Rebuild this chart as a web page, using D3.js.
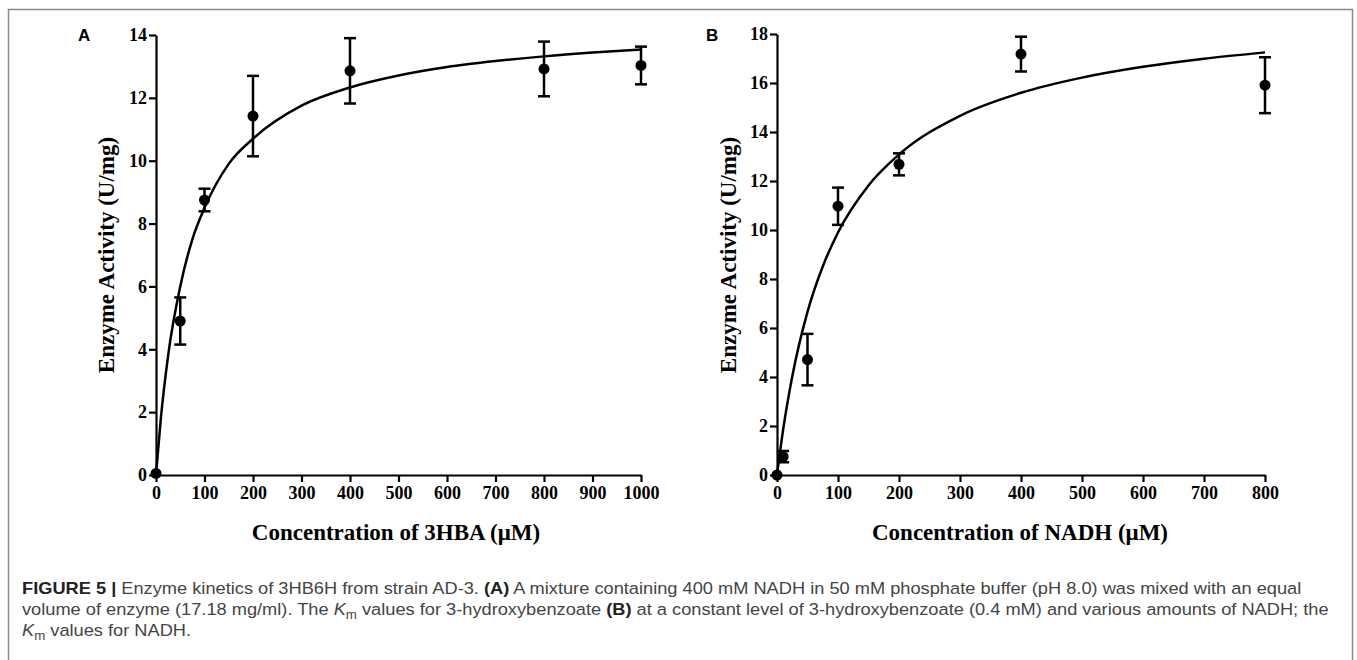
<!DOCTYPE html>
<html>
<head>
<meta charset="utf-8">
<script src="https://cdn.jsdelivr.net/npm/d3@7"></script>
<style>
  body { margin: 0; background: #fff; }
  svg { display: block; }
  .tick text { font-family: "Liberation Serif", "Times New Roman", serif; font-weight: bold; font-size: 18px; fill: #000; }
  .axis-title { font-family: "Liberation Serif", "Times New Roman", serif; font-weight: bold; font-size: 23px; fill: #000; }
  .panel-label { font-family: "Liberation Sans", Arial, sans-serif; font-weight: bold; font-size: 17px; fill: #000; }
  .caption { font-family: "Liberation Sans", Arial, sans-serif; font-size: 16.5px; fill: #444; }
</style>
</head>
<body>
<script>
// DATA ///////////////////////////////////////////////////////////
// panel A : 3HBA
var concA = [0, 50, 100, 200, 400, 800, 1000];
var actA  = [0.05, 4.9, 8.75, 11.42, 12.86, 12.92, 13.03];
var errA  = [0, 0.75, 0.36, 1.28, 1.04, 0.87, 0.6];
// fitted curve
var fitConcA = [0, 10, 25, 50, 75, 100, 150, 200, 300, 400, 500, 600, 700, 800, 900, 1000];
var fitActA  = [0, 1.8, 3.8, 6.0, 7.5, 8.5, 9.9, 10.7, 11.75, 12.33, 12.71, 12.98, 13.17, 13.32, 13.44, 13.54];

// panel B : NADH
var concB = [0, 10, 50, 100, 200, 400, 800];
var actB  = [0, 0.75, 4.71, 10.97, 12.68, 17.18, 15.91];
var errB  = [0, 0.23, 1.05, 0.76, 0.45, 0.71, 1.14];
var fitConcB = [0, 10, 25, 50, 75, 100, 150, 200, 300, 400, 500, 600, 700, 800];
var fitActB  = [0, 1.84, 4.02, 6.66, 8.51, 9.9, 11.82, 13.08, 14.66, 15.6, 16.22, 16.66, 16.99, 17.25];

var ticksXA = d3.range(0, 1001, 100);
var ticksYA = d3.range(0, 15, 2);
var ticksXB = d3.range(0, 801, 100);
var ticksYB = d3.range(0, 19, 2);

///////////////////////////////////////////////////////////////////
var width = 1357, height = 660;
var svg = d3.select("body").append("svg").attr("width", width).attr("height", height);

// frame
svg.append("path")
  .attr("d", "M8.5," + height + "V9.5H1352.5V" + height)
  .attr("fill", "none").attr("stroke", "#8a8a8a").attr("stroke-width", 1.5);

function drawPanel(opt){
  var x = d3.scaleLinear().domain(opt.xDomain).range(opt.xRange);
  var y = d3.scaleLinear().domain(opt.yDomain).range([475, opt.yTop]);
  var g = svg.append("g");

  var xAxis = g.append("g").attr("transform", "translate(0,475)")
    .call(d3.axisBottom(x).tickValues(opt.xTicks).tickFormat(d3.format("d"))
      .tickSize(7).tickSizeOuter(0).tickPadding(4));
  var yAxis = g.append("g").attr("transform", "translate(" + opt.xRange[0] + ",0)")
    .call(d3.axisLeft(y).tickValues(opt.yTicks).tickFormat(d3.format("d"))
      .tickSize(7).tickSizeOuter(0).tickPadding(2));
  [xAxis, yAxis].forEach(function(a){
    a.selectAll("path, line").attr("stroke", "#000").attr("stroke-width", 2.2);
  });

  // fit line
  g.append("path").datum(d3.zip(opt.fitX, opt.fitY))
    .attr("fill", "none").attr("stroke", "#000").attr("stroke-width", 2.5)
    .attr("d", d3.line().x(function(d){ return x(d[0]); }).y(function(d){ return y(d[1]); })
      .curve(d3.curveMonotoneX));

  var pts = d3.zip(opt.conc, opt.act, opt.err);
  var bars = g.append("g").attr("stroke", "#000").attr("stroke-width", 2.5);
  pts.filter(function(d){ return d[2] > 0; }).forEach(function(d){
    var cx = x(d[0]);
    bars.append("line").attr("x1", cx).attr("x2", cx).attr("y1", y(d[1] - d[2])).attr("y2", y(d[1] + d[2]));
    bars.append("line").attr("x1", cx - 6).attr("x2", cx + 6).attr("y1", y(d[1] + d[2])).attr("y2", y(d[1] + d[2]));
    bars.append("line").attr("x1", cx - 6).attr("x2", cx + 6).attr("y1", y(d[1] - d[2])).attr("y2", y(d[1] - d[2]));
  });
  g.append("g").selectAll("circle").data(pts).enter().append("circle")
    .attr("cx", function(d){ return x(d[0]); })
    .attr("cy", function(d){ return y(d[1]); })
    .attr("r", 5.5).attr("fill", "#000");

  g.append("text").attr("class", "axis-title").attr("text-anchor", "middle")
    .attr("x", opt.xTitleX).attr("y", 540).text(opt.xTitle);
  g.append("text").attr("class", "axis-title").attr("text-anchor", "middle")
    .attr("transform", "translate(" + opt.yTitleX + ",255) rotate(-90)").text("Enzyme Activity (U/mg)");
  g.append("text").attr("class", "panel-label").attr("x", opt.labelX).attr("y", 41).text(opt.label);
}

drawPanel({
  xDomain: [0, 1000], xRange: [156, 641], yDomain: [0, 14], yTop: 35,
  xTicks: ticksXA, yTicks: ticksYA,
  conc: concA, act: actA, err: errA, fitX: fitConcA, fitY: fitActA,
  xTitle: "Concentration of 3HBA (\u03bcM)", xTitleX: 396, yTitleX: 114,
  label: "A", labelX: 78
});
drawPanel({
  xDomain: [0, 800], xRange: [777, 1265], yDomain: [0, 18], yTop: 34,
  xTicks: ticksXB, yTicks: ticksYB,
  conc: concB, act: actB, err: errB, fitX: fitConcB, fitY: fitActB,
  xTitle: "Concentration of NADH (\u03bcM)", xTitleX: 1020, yTitleX: 736,
  label: "B", labelX: 706
});

// CAPTION /////////////////////////////////////////////////////////
var cap = svg.append("g").attr("class", "caption");
function capLine(yPos, parts){
  var t = cap.append("text").attr("x", 0).attr("y", yPos);
  parts.forEach(function(p){
    var s = t.append("tspan").text(p[0]);
    if (p[1] === "b") s.attr("font-weight", "bold").attr("fill", "#222");
    if (p[1] === "i") s.attr("font-style", "italic");
    if (p[1] === "sub") s.attr("font-size", "12px").attr("dy", 4);
    if (p[1] === "after") s.attr("dy", -4);
  });
  return t;
}
var l1 = capLine(594, [["FIGURE 5 | ", "b"], ["Enzyme kinetics of 3HB6H from strain AD-3. "], ["(A)", "b"],
  [" A mixture containing 400 mM NADH in 50 mM phosphate buffer (pH 8.0) was mixed with an equal"]]);
capLine(615, [["volume of enzyme (17.18 mg/ml). The "], ["K", "i"], ["m", "sub"], [" values for 3-hydroxybenzoate ", "after"],
  ["(B)", "b"], [" at a constant level of 3-hydroxybenzoate (0.4 mM) and various amounts of NADH; the"]]);
capLine(636, [["K", "i"], ["m", "sub"], [" values for NADH.", "after"]]);
var sx = 1281 / l1.node().getComputedTextLength();
cap.attr("transform", "translate(22,0) scale(" + sx + ",1)");
</script>
</body>
</html>
